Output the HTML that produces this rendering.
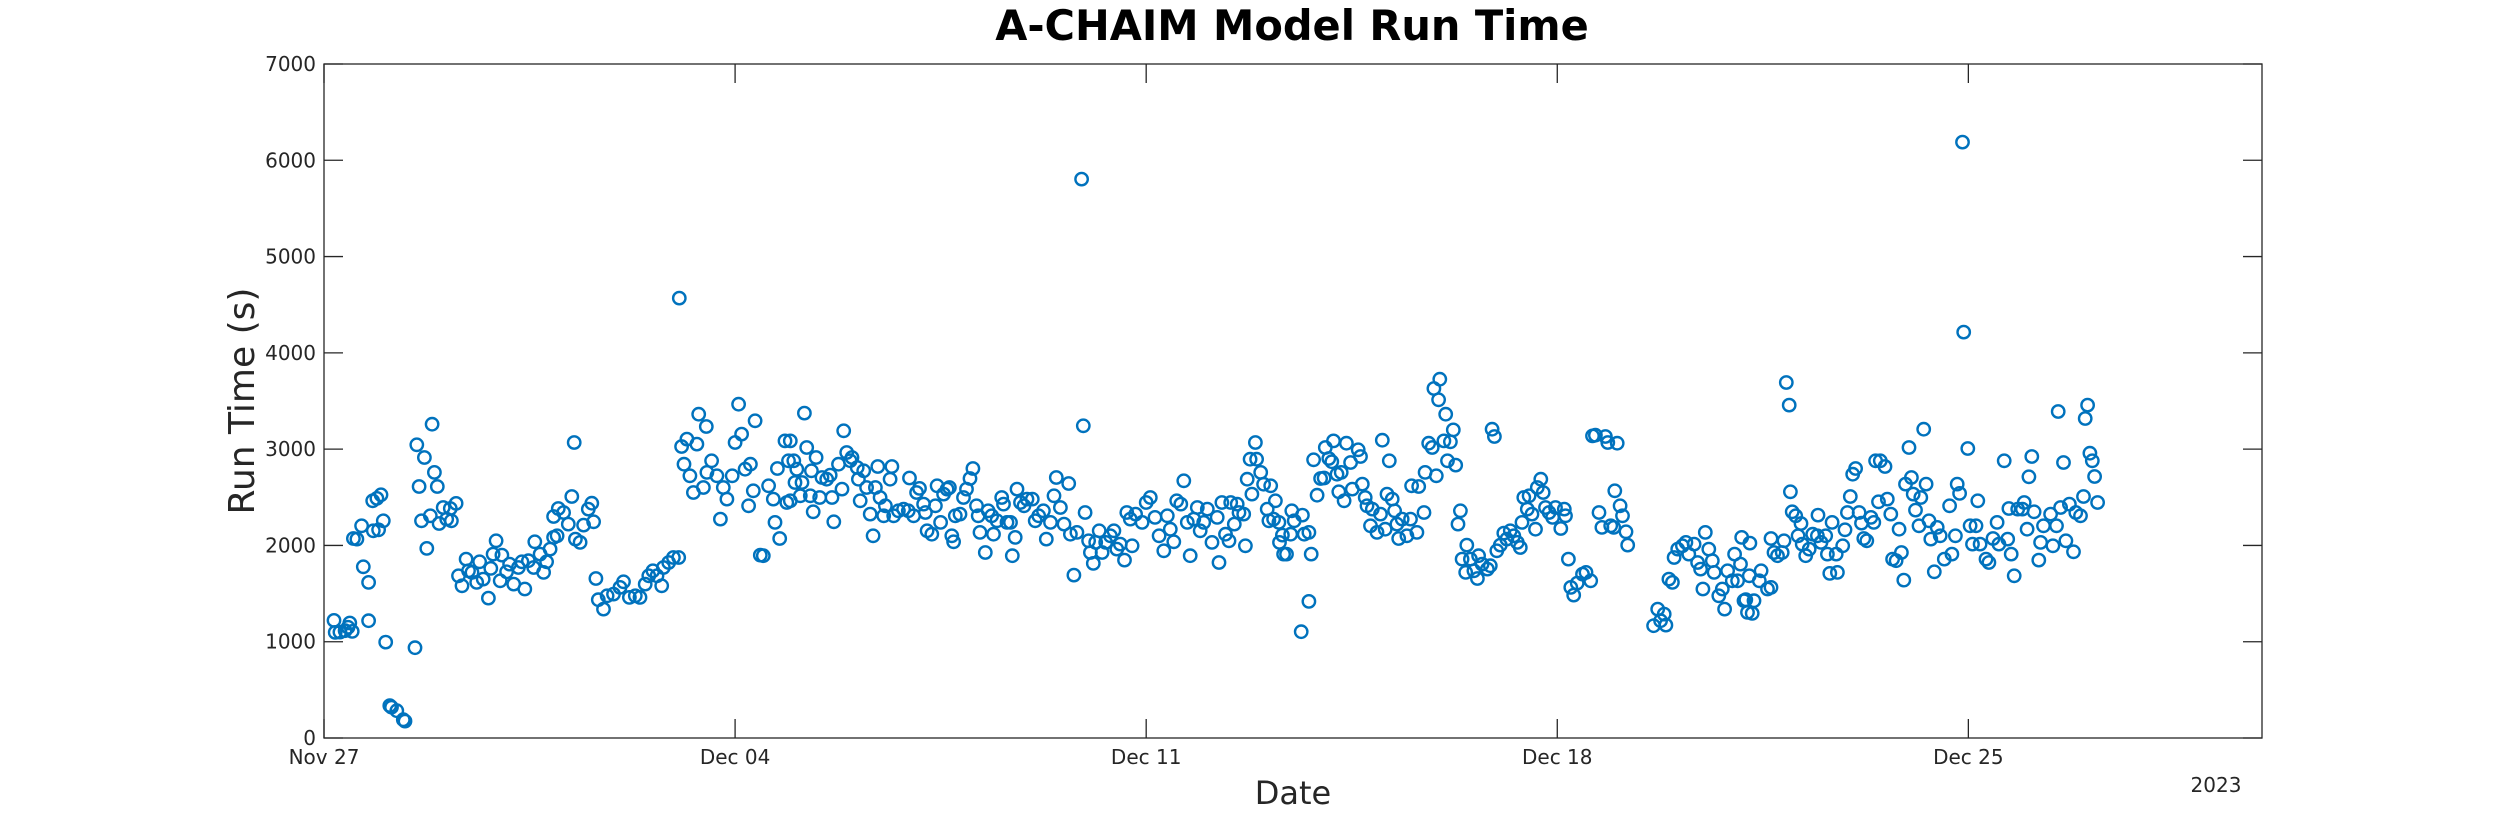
<!DOCTYPE html>
<html>
<head>
<meta charset="utf-8">
<style>
  html,body{margin:0;padding:0;background:#fff;}
  svg{display:block;}
  text{font-family:"DejaVu Sans","Liberation Sans",sans-serif;fill:#262626;}
</style>
</head>
<body>
<svg id="chart" width="2500" height="833" viewBox="0 0 2500 833">
  <rect x="0" y="0" width="2500" height="833" fill="#ffffff"/>
  <text x="1292" y="40" font-size="41.5" font-weight="bold" text-anchor="middle" style="fill:#000">A-CHAIM Model Run Time</text>
  <text x="1293" y="804" font-size="32" text-anchor="middle">Date</text>
  <text transform="translate(254,401) rotate(-90)" font-size="36" text-anchor="middle">Run Time (s)</text>
  <text x="2216" y="792" font-size="20" text-anchor="middle">2023</text>
  <g id="ticks"></g>
  <g id="marks"></g>
  <rect x="324" y="64" width="1938" height="674" fill="none" stroke="#262626" stroke-width="1.3"/>
</svg>
<script>
// ---- data ----
const xTickDays = [0, 7, 14, 21, 28];
const xTickLabels = ["Nov 27", "Dec 04", "Dec 11", "Dec 18", "Dec 25"];
const yTickValues = [0, 1000, 2000, 3000, 4000, 5000, 6000, 7000];
const yTickLabels = ["0", "1000", "2000", "3000", "4000", "5000", "6000", "7000"];

const runDays = [
0.17,0.19,0.27,0.36,0.41,0.44,0.48,0.5,0.56,0.64,
0.67,0.76,0.76,0.83,0.9,0.97,0.84,0.93,1.01,1.05,
1.12,1.15,1.24,1.35,1.38,1.55,1.58,1.71,1.84,1.88,
1.93,1.62,1.66,1.75,1.81,1.96,2.03,2.09,2.17,2.25,
2.15,2.29,2.35,2.42,2.46,2.52,2.6,2.65,2.71,2.8,
2.84,2.88,2.93,3.03,3.0,3.11,3.16,3.23,3.31,3.37,
3.42,3.48,3.57,3.59,3.68,3.74,3.79,3.85,3.91,3.97,
3.91,3.99,4.08,4.16,4.22,4.26,4.28,4.36,4.42,4.5,
4.56,4.59,4.63,4.67,4.76,4.82,4.93,5.04,5.1,5.2,
5.3,5.38,5.47,5.53,5.6,5.67,5.75,5.78,5.87,5.95,
6.04,6.05,6.09,6.18,6.35,6.38,6.51,6.13,6.23,6.29,
6.46,6.6,6.52,6.69,6.75,6.8,6.86,6.95,7.0,7.06,
7.11,7.17,7.26,7.34,7.31,7.23,7.43,7.48,7.57,7.65,
7.68,7.76,7.72,7.85,7.91,7.88,
7.94,8.18,8.0,8.05,8.22,8.38,8.14,8.02,7.94,8.11,
8.28,8.3,8.44,8.33,8.48,8.56,8.62,8.65,8.68,8.76,
8.82,8.85,8.9,8.99,8.96,9.08,9.1,9.13,9.19,9.24,
9.3,9.35,9.39,9.43,9.47,9.56,9.53,9.64,9.67,9.7,
9.78,9.87,9.95,9.97,10.04,10.09,10.14,10.21,10.24,10.27,
10.35,10.41,10.44,10.5,10.55,10.61,10.65,10.69,10.72,10.75,
10.83,10.89,10.94,11.0,11.05,11.11,11.14,11.17,11.26,11.31,
11.37,11.4,11.46,11.54,11.57,11.63,11.69,11.72,11.77,11.8,
11.86,11.92,11.97,12.06,12.11,12.17,12.25,12.3,12.37,12.43,
12.47,12.54,12.6,12.68,12.71,12.77,12.82,12.9,12.93,12.96,
13.02,13.05,13.1,13.14,13.2,13.25,13.31,13.39,13.45,13.5,
13.56,13.63,13.67,13.76,13.73,13.82,13.93,14.0,14.07,14.15,
14.22,14.3,14.36,14.41,14.47,14.52,14.59,14.64,14.7,14.75,
14.81,14.87,14.92,14.98,15.04,15.12,15.21,15.24,15.29,15.35,
15.41,15.44,15.5,15.55,15.58,15.66,15.69,15.72,15.8,15.86,
15.77,15.88,15.95,16.0,16.06,16.09,
16.12,16.2,16.17,16.26,16.32,16.27,16.34,16.39,16.46,16.48,
16.52,16.66,16.69,16.77,16.81,16.77,16.64,16.85,16.91,16.97,
17.03,17.05,17.11,17.19,17.16,17.25,17.32,17.28,17.37,17.41,
17.48,17.51,17.61,17.65,17.68,17.73,17.76,17.82,17.85,17.93,
17.99,18.02,18.07,18.1,18.14,18.19,18.23,18.27,18.3,18.36,
18.44,18.5,18.52,18.61,18.64,18.73,18.75,18.81,18.87,18.9,
18.94,18.98,19.1,19.13,19.18,19.23,19.27,19.0,19.07,19.31,
19.35,19.38,19.46,19.44,19.52,19.58,19.64,19.66,19.72,19.81,
19.86,19.89,19.93,19.97,20.03,20.09,20.14,20.2,20.26,20.32,
20.37,20.4,20.43,20.49,20.52,20.57,20.63,20.66,20.72,20.76,
20.8,20.86,20.92,20.97,21.06,21.12,21.14,21.19,21.23,21.28,
21.34,21.43,21.49,21.57,21.6,21.65,21.71,21.76,21.82,21.86,
21.91,21.96,22.02,21.98,22.07,22.11,22.17,22.2,22.64,22.71,
22.76,22.85,22.82,22.9,22.96,22.99,23.05,23.13,23.19,23.24,
23.33,23.39,23.44,23.48,23.52,23.58,23.64,23.67,23.75,23.81,
23.85,23.9,23.98,24.02,24.07,24.12,24.14,24.18,24.24,24.27,
24.28,24.32,24.35,24.47,24.44,24.58,24.64,24.21,24.64,24.69,
24.75,24.83,24.86,24.9,24.95,24.97,25.0,25.06,25.15,25.1,
25.17,25.23,25.29,25.35,25.43,25.44,25.49,25.57,25.6,25.64,
25.68,25.75,25.77,25.86,25.9,25.94,25.99,26.03,26.08,26.14,
26.18,26.22,26.27,26.34,26.39,26.42,26.47,26.5,26.58,26.62,
26.68,26.82,26.71,26.77,26.86,26.9,26.93,26.99,27.03,27.06,
27.1,27.16,27.19,27.24,27.28,27.33,27.36,27.42,27.47,27.52,
27.59,27.68,27.72,27.78,27.81,27.85,27.9,27.92,27.99,28.03,
28.07,28.13,28.16,28.2,28.3,28.35,28.42,28.49,28.52,28.61,
28.67,28.69,28.73,28.78,28.84,28.92,28.95,29.0,29.03,29.08,
29.12,29.2,29.23,29.28,29.4,29.44,29.5,29.53,29.57,29.62,
29.66,29.72,29.79,29.83,29.91,29.96,29.99,30.03,30.07,30.11,
30.15,30.2
];

const runSeconds = [
1221,1097,1100,1114,1150,1194,1107,2072,2066,2204,
1778,1616,1218,2464,2488,2526,2152,2162,2256,996,
336,320,284,190,175,938,3045,2913,3259,2758,
2612,2612,2256,1969,2308,2228,2394,2273,2256,2436,
2384,1685,1581,1858,1737,1720,1616,1830,1650,1453,
1761,1910,2048,1900,1633,1726,1806,1598,1771,1830,
1547,1841,1771,2038,1910,1720,1830,1962,2083,2100,
2300,2384,2342,2221,2508,3069,2066,2031,2211,2377,
2439,2245,1657,1436,1339,1477,1494,1564,1622,1460,
1477,1460,1598,1685,1737,1685,1581,1771,1823,1875,
1875,4569,3027,3104,3052,3363,3235,2844,2723,2550,
2602,2879,2758,2723,2273,2602,2481,2723,3069,3467,
3156,2792,2844,3294,2567,2412,1900,1893,2619,2481,
2239,2072,2799,3086,2879,2446,
3086,3374,2879,2792,3017,2913,2654,2654,2464,2515,
2515,2775,2498,2349,2706,2688,2730,2498,2245,2844,
2585,3190,2965,2913,2880,2809,2688,2464,2775,2602,
2325,2100,2602,2820,2498,2412,2308,2688,2820,2308,
2360,2377,2360,2700,2308,2550,2592,2429,2342,2152,
2117,2412,2619,2239,2533,2585,2602,2100,2038,2308,
2325,2498,2585,2695,2799,2412,2308,2135,1927,2360,
2308,2117,2256,2498,2429,2239,2239,1893,2083,2585,
2446,2412,2481,2481,2256,2308,2360,2066,2239,2515,
2706,2394,2221,2643,2117,1692,2135,5805,3242,2342,
2048,1927,1813,2031,2152,1927,2031,2100,2152,1962,
2014,1848,2342,1996,2273,2325,2239,2446,2498,2291,
2100,1944,2308,2169,2038,2464,2429,2671,2239,1893,
2273,2394,2152,2239,2377,2031,2291,1823,2446,2117,
2048,2446,2221,2429,2342,2325,1996,2688,2533,3069,
2896,2896,2758,2636,2377,2256,
2619,2464,2273,2239,2107,2031,1910,1910,2117,2360,
2256,2315,2117,2135,1910,1419,1104,2889,2522,2695,
2700,3017,2903,3086,2870,2740,2758,2557,2464,3062,
2861,2585,2993,2924,2637,2498,2412,2204,2377,2135,
2325,3093,2169,2533,2879,2481,2360,2221,2072,2273,
2100,2273,2619,2135,2612,2342,2758,3062,3017,3630,
2723,3512,3363,2879,3076,3200,2834,3726,3086,2221,
2360,1858,2003,1720,1858,1737,1657,1893,1806,1754,
1789,3207,3131,1944,2003,2128,2066,2152,2100,2031,
1979,2239,2498,2377,2515,2325,2169,2602,2688,2550,
2394,2342,2291,2394,2176,2377,2308,1858,1564,1484,
1609,1702,1720,1633,3138,3145,2342,2187,3131,3069,
2204,2187,3062,2567,2412,2308,2142,2003,1166,1339,
1218,1173,1287,1650,1616,1875,1962,1996,2031,1910,
2014,1823,1754,1547,2135,1962,1841,1720,1477,1547,
1339,1737,1633,1910,1633,1806,2083,1426,1304,1685,
2024,1294,1426,1737,1633,1547,1564,1436,2072,1927,
1893,1927,2048,3692,3457,2557,2349,2308,2228,2100,
2014,1893,1962,2117,2100,2315,2031,2100,1910,1709,
2239,1910,1720,1996,2162,2342,2508,2740,2799,2342,
2232,2072,2048,2291,2239,2879,2453,2879,2820,2481,
2325,2169,1858,1841,1927,1640,2637,3017,2706,2533,
2367,2204,2498,3207,2637,2256,2066,1726,2187,2100,
1858,2412,1910,2100,2637,2540,6189,4216,3007,2204,
2014,2204,2464,2014,1858,1823,2072,2239,2014,2879,
2066,2384,1910,1685,2377,2377,2446,2169,2713,2924,
2349,1848,2031,2204,2325,1996,2204,3391,2394,2861,
2048,2429,1934,2342,2308,2508,3318,3457,2958,2879,
2716,2446
];

// ---- axes ----
const PLOT = {left:324, right:2262, top:64, bottom:738};
const X_MIN = 0, X_MAX = 33, Y_MIN = 0, Y_MAX = 7000;
function xScale(d){ return PLOT.left + (d - X_MIN) / (X_MAX - X_MIN) * (PLOT.right - PLOT.left); }
function yScale(v){ return PLOT.bottom - (v - Y_MIN) / (Y_MAX - Y_MIN) * (PLOT.bottom - PLOT.top); }

const NS = "http://www.w3.org/2000/svg";
const tickG = document.getElementById("ticks");
const markG = document.getElementById("marks");
const TL = 19;

yTickValues.forEach(function(v, i){
  const y = yScale(v);
  const l1 = document.createElementNS(NS, "line");
  l1.setAttribute("x1", PLOT.left); l1.setAttribute("x2", PLOT.left + TL);
  l1.setAttribute("y1", y); l1.setAttribute("y2", y);
  l1.setAttribute("stroke", "#262626"); l1.setAttribute("stroke-width", "1.3");
  
  
  tickG.appendChild(l1);
  const l2 = document.createElementNS(NS, "line");
  l2.setAttribute("x1", PLOT.right - TL); l2.setAttribute("x2", PLOT.right);
  l2.setAttribute("y1", y); l2.setAttribute("y2", y);
  l2.setAttribute("stroke", "#262626"); l2.setAttribute("stroke-width", "1.3");
  
  
  tickG.appendChild(l2);
  const t = document.createElementNS(NS, "text");
  t.setAttribute("x", PLOT.left - 8); t.setAttribute("y", y + 7);
  t.setAttribute("font-size", "20"); t.setAttribute("text-anchor", "end");
  t.textContent = yTickLabels[i];
  
  
  tickG.appendChild(t);
});

xTickDays.forEach(function(d, i){
  const x = xScale(d);
  const b = document.createElementNS(NS, "line");
  b.setAttribute("x1", x); b.setAttribute("x2", x);
  b.setAttribute("y1", PLOT.bottom); b.setAttribute("y2", PLOT.bottom - TL);
  b.setAttribute("stroke", "#262626"); b.setAttribute("stroke-width", "1.3");
  
  
  tickG.appendChild(b);
  const tp = document.createElementNS(NS, "line");
  tp.setAttribute("x1", x); tp.setAttribute("x2", x);
  tp.setAttribute("y1", PLOT.top); tp.setAttribute("y2", PLOT.top + TL);
  tp.setAttribute("stroke", "#262626"); tp.setAttribute("stroke-width", "1.3");
  
  
  tickG.appendChild(tp);
  const t = document.createElementNS(NS, "text");
  t.setAttribute("x", x); t.setAttribute("y", PLOT.bottom + 26);
  t.setAttribute("font-size", "20"); t.setAttribute("text-anchor", "middle");
  t.textContent = xTickLabels[i];
  
  
  tickG.appendChild(t);
});

const n = Math.min(runDays.length, runSeconds.length);
for (let i = 0; i < n; i++) {
  const c = document.createElementNS(NS, "circle");
  c.setAttribute("cx", xScale(runDays[i]).toFixed(1));
  c.setAttribute("cy", yScale(runSeconds[i]).toFixed(1));
  c.setAttribute("r", "6.2");
  c.setAttribute("fill", "none");
  c.setAttribute("stroke", "#0072BD");
  c.setAttribute("stroke-width", "2.4");
  
  
  markG.appendChild(c);
}
</script>
</body>
</html>
